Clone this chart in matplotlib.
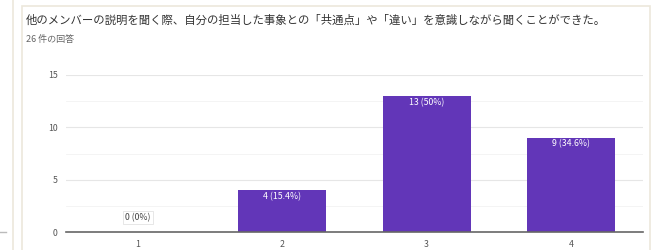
import matplotlib
matplotlib.use("Agg")
import matplotlib.pyplot as plt
from matplotlib.patches import Rectangle
from matplotlib.lines import Line2D

plt.rcParams['font.family'] = ['Noto Sans CJK JP', 'DejaVu Sans']

title = "他のメンバーの説明を聞く際、自分の担当した事象との「共通点」や「違い」を意識しながら聞くことができた。"
subtitle = "26 件の回答"
categories = ["1", "2", "3", "4"]
counts = [0, 4, 13, 9]
bar_labels = ["0 (0%)", "4 (15.4%)", "13 (50%)", "9 (34.6%)"]

fig = plt.figure(figsize=(6.56, 2.5), dpi=100)
fig.patch.set_facecolor("white")

# card borders
fig.add_artist(Line2D([13/656, 13/656], [0, 1], color="#ece8dc", lw=1.2))
fig.add_artist(Line2D([0, 6/656], [1 - 232/250, 1 - 232/250], color="#bbbbbb", lw=1))
fig.add_artist(Rectangle((22/656, -0.05), 628/656, 1 - 6/250 + 0.05, fill=False,
                         edgecolor="#ece8dc", lw=1.2))

fig.text(26/656, 1 - 20/250, title, fontsize=8.2, color="#333333", va="center")
fig.text(26/656, 1 - 39/250, subtitle, fontsize=6.5, color="#666666", va="center")

ax = fig.add_axes([66/656, 1 - 232/250, (643 - 66)/656, (232 - 75)/250])
x = range(1, len(categories) + 1)
ax.bar(x, counts, width=0.61, color="#6236b8", zorder=3)

for xi, c, lab in zip(x, counts, bar_labels):
    if c == 0:
        ax.text(xi, 1.4, lab, ha="center", va="center", fontsize=6.3, color="#444444",
                bbox=dict(facecolor="white", edgecolor="#dddddd", pad=1.5, lw=0.5), zorder=4)
    else:
        ax.text(xi, c - 0.6, lab, ha="center", va="center", fontsize=6.3,
                color="white", zorder=4)

ax.set_xlim(0.5, 4.5)
ax.set_ylim(0, 15)
ax.set_xticks(list(x))
ax.set_xticklabels(categories)
ax.set_yticks([0, 5, 10, 15])
ax.set_yticks([2.5, 7.5, 12.5], minor=True)
ax.grid(axis="y", which="major", color="#e6e6e6", lw=0.8, zorder=0)
ax.grid(axis="y", which="minor", color="#f3f3f3", lw=0.6, zorder=0)
ax.tick_params(axis="both", which="both", length=0, labelsize=6.3, colors="#555555", pad=6)
for s in ["top", "right", "left"]:
    ax.spines[s].set_visible(False)
ax.spines["bottom"].set_color("#666666")
ax.spines["bottom"].set_linewidth(1.2)
ax.spines["bottom"].set_zorder(5)

fig.savefig("out.png", dpi=100)
